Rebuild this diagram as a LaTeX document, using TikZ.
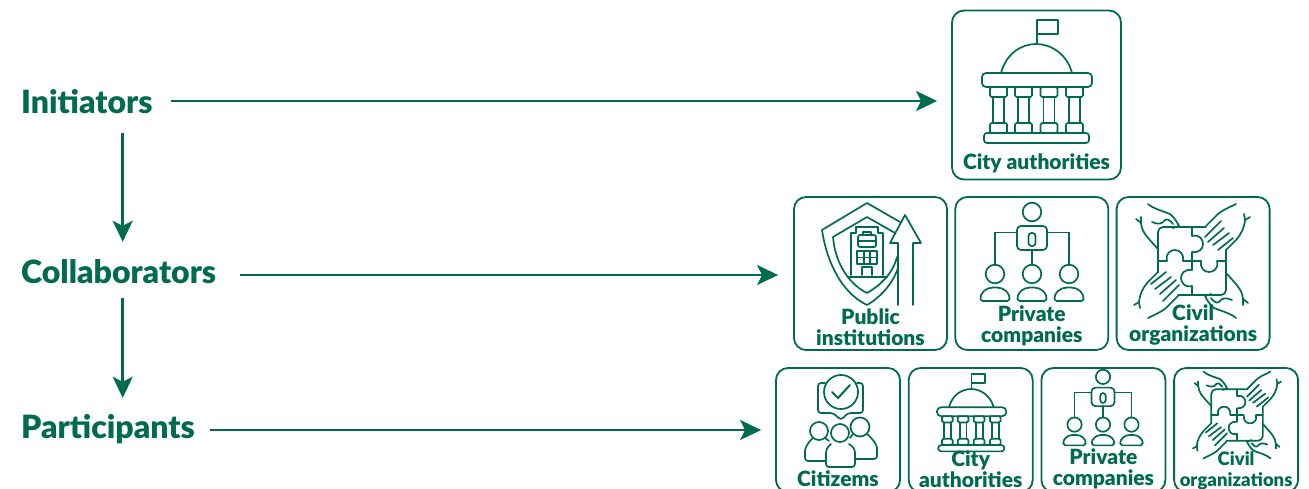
\documentclass[tikz,border=0pt]{standalone}
\usepackage{fontspec}
\setmainfont{Lato}[BoldFont={Lato Black}]
\usetikzlibrary{positioning}
\usetikzlibrary{arrows.meta}
\definecolor{leaf}{HTML}{006B4F}

\tikzset{
  icon/.style={draw=leaf, line width=1.7pt, line join=round, line cap=round},
  pics/townhall/.style={code={
      \draw[icon] (1,-47) -- (1,-70) -- (22,-70) -- (22,-56) -- (1,-56);
      \draw[icon] (-35,-17) .. controls (-30,-36) and (-15,-46) .. (0,-46) .. controls (15,-46) and (31,-36) .. (36,-17);
      \draw[icon, rounded corners=4pt] (-54,-17) rectangle (56,-3);
      \draw[icon, rounded corners=3pt] (-52,43) rectangle (53,53);
      \foreach \cx in {-37.5,-12.5,13,38.5} {
        \draw[icon, rounded corners=1.5pt] (\cx-8.5,-3) rectangle (\cx+8.5,7);
        \draw[icon, rounded corners=1.5pt] (\cx-8.5,33) rectangle (\cx+8.5,43);
        \draw[icon] (\cx-5.5,7) -- (\cx-5.5,33);
        \draw[icon] (\cx+5.5,7) -- (\cx+5.5,33);
      }
  }},
  pics/orgchart/.style={code={
      \draw[icon] (0,-45) circle (9.3);
      \draw[icon, rounded corners=4pt] (-15,-7) -- (-15,-31) -- (15,-31) -- (15,-7) -- cycle;
      \draw[icon, rounded corners=3pt] (-3.5,-24) rectangle (3.5,-11);
      \draw[icon] (-15,-24.5) -- (-37,-24.5) -- (-37,8);
      \draw[icon] (15,-24.5) -- (37,-24.5) -- (37,8);
      \draw[icon] (0,-7) -- (0,8);
      \foreach \cx in {-37,0,37} {
        \draw[icon] (\cx,17) circle (9.3);
        \draw[icon, rounded corners=2pt] (\cx-14.5,44) .. controls (\cx-15,36) and (\cx-9,30.5) .. (\cx,30.5) .. controls (\cx+9,30.5) and (\cx+15,36) .. (\cx+14.5,44) -- cycle;
      }
  }},
  pics/puzzle/.style={code={
      \draw[icon, rounded corners=5pt] (14,-34) -- (-34,-34) -- (-34,11);
      \draw[icon, rounded corners=5pt] (-14,34) -- (34,34) -- (34,-11);
      \foreach \a in {0,90,180,270} {
        \draw[icon, rotate=\a] (0,-34) -- (0,-25) .. controls (8,-27) and (11,-21) .. (11,-17) .. controls (11,-12) and (7,-8) .. (0,-9) -- (0,0);
      }
      \foreach \a in {0,180} {
        \begin{scope}[rotate=\a]
          \draw[icon] (44,-57) .. controls (36,-53) and (28,-50) .. (23,-44) -- (14,-35);
          \draw[icon] (58,-44) -- (53,-41) .. controls (52,-33) and (50,-28) .. (44,-21) -- (34,-11);
          \draw[icon] (53,-41) -- (52,-47);
          \draw[icon] (13,-24) -- (29,-40);
          \draw[icon] (16,-19) -- (32,-33);
          \draw[icon] (21,-16) -- (37,-28);
          \draw[icon] (26,-11) -- (41,-23);
          \draw[icon] (-44,-57) .. controls (-38,-52) and (-32,-51) .. (-22,-47) .. controls (-18,-44) and (-15,-39) .. (-13,-35) -- (-19,-33);
          \draw[icon] (-40,-39) .. controls (-34,-36) and (-30,-37) .. (-27,-41) .. controls (-25,-43) and (-21,-40) .. (-19,-37);
          \draw[icon] (-56,-42) -- (-51,-38) .. controls (-50,-30) and (-48,-27) .. (-34,-12);
          \draw[icon] (-51,-38) -- (-51,-44);
        \end{scope}
      }
  }},
  pics/shieldup/.style={code={
      \draw[icon] (31,15) .. controls (26,30) and (14,44) .. (0,52) .. controls (-25,40) and (-40,10) .. (-45,-23) -- (0,-50) -- (33,-31);
      \draw[icon] (30,4) .. controls (26,20) and (14,32) .. (0,40) .. controls (-20,30) and (-32,8) .. (-34,-16) -- (0,-36) -- (28,-20);
      \draw[icon] (31,52) -- (31,-10) -- (23,-10) -- (38,-38) -- (54,-10) -- (46,-10) -- (46,52);
      \draw[icon] (-16,22) -- (-16,-20) -- (-11,-20) -- (-11,-26) -- (11,-26) -- (11,-20) -- (16,-20) -- (16,22);
      \draw[icon, rounded corners=2pt] (-9,-18) rectangle (9,-6);
      \draw[icon] (-9,-12) -- (9,-12);
      \draw[icon] (-4,-18) -- (-4,-21) -- (4,-21) -- (4,-18);
      \draw[icon] (-10,-2) rectangle (10,11);
      \draw[icon] (-3.3,-2) -- (-3.3,11);
      \draw[icon] (3.3,-2) -- (3.3,11);
      \draw[icon] (-10,4.5) -- (10,4.5);
      \draw[icon] (-5,22) -- (-5,14) -- (5,14) -- (5,22);
      \draw[icon, line width=2.6pt] (-18,24) -- (20,24);
  }},
  pics/citizens/.style={code={
      \draw[icon] (1,-28) circle (17);
      \draw[icon, line width=2pt] (-8,-28) -- (-2,-22) -- (10,-35);
      \draw[icon, rounded corners=3pt] (-15,-37) -- (-22,-37) -- (-22,-7) -- (-7,-7) -- (1,0) -- (8,-7) -- (23,-7) -- (23,-37) -- (17,-37);
      \draw[icon] (0,13) circle (9);
      \draw[icon] (-21,11) circle (9);
      \draw[icon] (20,7) circle (9.5);
      \draw[icon, rounded corners=3pt] (-9,24) .. controls (-12,26) and (-14,30) .. (-14,36) -- (-14,47) -- (15,47) -- (15,36) .. controls (15,30) and (13,26) .. (9,24);
      \draw[icon, rounded corners=3pt] (-27,18) .. controls (-32,22) and (-35,28) .. (-35,34) -- (-35,41) -- (-14,41);
      \draw[icon] (-15,18) -- (-11,21);
      \draw[icon, rounded corners=3pt] (27,14) .. controls (33,19) and (37,25) .. (37,31) -- (37,39) -- (15,39);
      \draw[icon] (13,14) -- (10,18);
  }}
}

\begin{document}
\begin{tikzpicture}
      [ x=1pt, y=-1pt
        , node distance=6.5pt
        , iconbox/.style={draw=leaf, line width=1.8pt, rounded corners=12pt, inner sep=0pt, minimum width=#1, minimum height=#1}
        , rowlbl/.style={text=leaf, font=\bfseries\fontsize{32}{32}\selectfont, inner sep=0pt, anchor=west, text height=22pt, text depth=6pt}
        , boxlbl/.style={text=leaf, font=\bfseries\fontsize{21}{21}\selectfont, inner sep=0pt, align=center}
        , smalllbl/.style={text=leaf, font=\bfseries\fontsize{18.5}{21}\selectfont, inner sep=0pt, align=center}
        , flowarrow/.style={draw=leaf, line width=2.6pt, -{Stealth[length=21pt,width=20pt,inset=5pt]}}
      ]
      \useasboundingbox (0,0) rectangle (1309,489);

      \node (init) [rowlbl, text height=32pt] at (21,101) {Initiators};
      \node (coll) [rowlbl, text width=203pt] at (21,275) {Collaborators};
      \node (part) [rowlbl] at (21,430) {Participants};

      % boxes
      \node (city) [iconbox=169pt] at (1036.5,95) {};
      \node (pub) [iconbox=153pt] at (870.5,273.5) {};
      \node (priv) [iconbox=153pt, right=of pub] {};
      \node (civ) [iconbox=153pt, right=of priv] {};
      \node (citz) [iconbox=124pt] at (838,430) {};
      \node (city2) [iconbox=124pt, right=6.9pt of citz] {};
      \node (priv2) [iconbox=124pt, right=6.9pt of city2] {};
      \node (civ2) [iconbox=124pt, right=6.9pt of priv2] {};

      % icons
      \pic at (1036,90) {townhall};
      \pic at (867,253) {shieldup};
      \pic at (1032,257) {orgchart};
      \pic at (1192,261) {puzzle};
      \pic at (840,420) {citizens};
      \pic[scale=.63] at (971,418) {townhall};
      \pic[scale=.77] at (1103,411.5) {orgchart};
      \pic[scale=.76] at (1237,415) {puzzle};

      % labels
      \node (t1) [boxlbl, above=7pt of city.south] {City authorities};
      \node (t2) [boxlbl, above=5pt of pub.south] {Public\\institutions};
      \node (t3) [boxlbl, above=5pt of priv.south] {Private\\companies};
      \node (t4) [boxlbl, above=5pt of civ.south] {Civil\\organizations};
      \node (t5) [boxlbl, above=6pt of citz.south] {Citizems};
      \node (t6) [boxlbl, above=5pt of city2.south] {City\\authorities};
      \node (t7) [boxlbl, above=3.5pt of priv2.south] {Private\\companies};
      \node (t8) [smalllbl, above=3pt of civ2.south] {Civil\\organizations};

      \draw[flowarrow, shorten <=18pt, shorten >=14pt] (init.east) -- (init.east -| city.west);
      \draw[flowarrow, shorten <=16pt, shorten >=15pt] (coll.east) -- (coll.east -| pub.west);
      \draw[flowarrow, shorten <=15pt, shorten >=14pt] (part.east) -- (part.east -| citz.west);
      \draw[flowarrow, shorten <=13pt, shorten >=19pt] (coll.north |- init.south) -- (coll.north);
      \draw[flowarrow, shorten <=9pt, shorten >=18pt] (coll.south) -- (coll.south |- part.north);

    \end{tikzpicture}
\end{document}
